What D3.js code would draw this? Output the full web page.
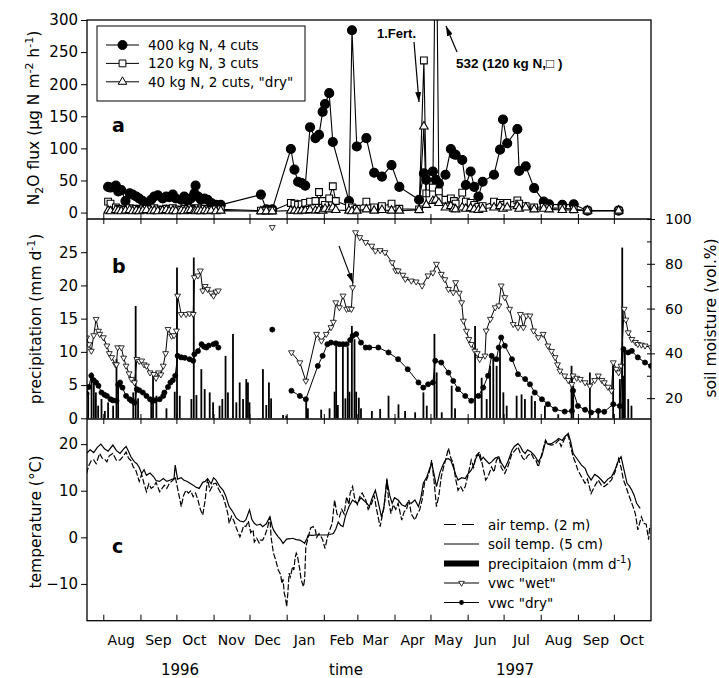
<!DOCTYPE html>
<html>
<head>
<meta charset="utf-8">
<script src="https://cdn.jsdelivr.net/npm/d3@7"></script>
<style>
  body { margin: 0; background: #fff; }
  svg text { font-family: "DejaVu Sans", sans-serif; fill: #000; }
</style>
</head>
<body>
<div class="canva"></div>
<script>
// all days are counted from 18 July 1996

// N2O flux sampling days and the three treatments
const fluxDays = [18, 20, 24.5, 26.5, 29, 32.5, 36, 38.5, 41.5, 44, 47, 50, 54, 56.5, 59.5, 63.5, 66.5, 69, 72, 74.5,
  79, 81.5, 84.5, 87, 90, 91, 93, 95.5, 98.5, 101, 104, 108, 112, 145.5, 150, 155, 170.5, 173.5, 176.5, 179.5,
  182.5, 186.5, 191, 194, 197, 199, 202.5, 205.5, 208, 219, 221.5, 225.5, 233.5, 240, 246.5, 254.5, 261, 277.5, 281.5, 283.5,
  289, 291.5, 294, 299.5, 304, 306.5, 308, 313.5, 316.5, 320.5, 323.5, 327, 330.5, 340, 345, 347.5, 351, 359.5, 361, 366.5,
  373.5, 381.5, 386, 397, 406.5, 418, 444];
const flux400 = [40, 39, 42, 33, 35, 18, 30, 28, 25, 22, 18, 15, 20, 25, 27, 22, 25, 24, 28, 22,
  20, 25, 18, 22, 30, 42, 25, 20, 22, 20, 15, 12, 12, 28, 5, 5, 99, 67, 48, 46,
  42, 133, 116, 121, 157, 169, 186, 110, null, 18, 284, 103, 116, 62, 56, 74, 40, 20, 61, 51,
  64, 51, 45, 59, 99, 91, 90, 82, 43, 64, 40, 25, 48, 59, 98, 145, 108, 130, 65, 72,
  38, 17, 13, 12, 13, 3, 3];
const flux120 = [17, 14, 8, 6, 5, 4, 7, 5, 6, 4, 5, 6, 5, 7, 5, 4, 6, 5, 7, 5,
  4, 6, 5, 7, 6, 5, 7, 5, 6, 5, 4, 5, 5, 3, 3, 3, 15, 14, 12, 13,
  15, 17, 18, 32, 18, 12, 22, 41, 18, 10, 8, 6, 17, 8, 10, 14, 6, 5, 237, 30,
  39, 532, 33, 20, 22, 18, 14, 31, 17, 15, 12, 9, 10, 17, 15, 12, 15, 19, 14, 10,
  8, 9, 7, 7, 5, 3, 3];
const flux40 = [3, 2, 4, 3, 2, 3, 4, 2, 3, 2, 3, 4, 2, 3, 2, 3, 4, 2, 3, 2,
  3, 2, 3, 4, 3, 2, 3, 2, 3, 2, 3, 2, 3, 2, 2, 2, 3, 3, 2, 3,
  3, 4, 3, 4, 3, 6, 5, 8, 4, 3, 2, 3, 5, 3, 4, 3, 3, 4, 134, 12,
  18, 20, 15, 8, 10, 6, 5, 8, 6, 7, 5, 4, 6, 8, 10, 6, 8, 10, 6, 8,
  5, 6, 5, 4, 4, 3, 3];

// daily precipitation [day, mm]
const precip = [[1.4, 3.9], [4.2, 6.9], [6.1, 6.1], [7.8, 3.9], [9.7, 1.9], [12.5, 2.9], [15.3, 1.1], [18, 2.4], [22.2, 1.9],
  [25, 8.9], [26.4, 4.9], [39, 3.9], [41, 16.9], [43, 3], [54, 2.4], [55.5, 6.4], [58.3, 3.4], [66.7, 1.5], [73.6, 4],
  [75.5, 22.7], [77.8, 3.4], [87.5, 2.9], [89.5, 24.2], [91.7, 3.5], [95.8, 7.4], [98.6, 4.4], [102.8, 3.9], [105.6, 2.4],
  [111, 1.9], [113.3, 2.9], [116, 9.4], [118, 3.9], [122.2, 12.7], [125, 2.4], [127.8, 5.4], [130.6, 2.9], [133.3, 5.9],
  [134.7, 5.4], [136, 2.4], [147.2, 7.4], [150, 2], [152.2, 5.4], [154, 3], [164, 0.5], [166.7, 0.4], [183.3, 2.6],
  [184.7, 1.5], [195.8, 1.3], [202.8, 1.5], [207, 4], [208.3, 10.9], [209.7, 2], [213.9, 10.9], [216, 3], [218, 10.7],
  [219.4, 4], [221.4, 13.9], [223.6, 11.9], [225, 4], [227.2, 3.1], [229, 1.5], [238.1, 1.1], [245, 1.4], [252, 3.4],
  [260.3, 2.1], [265.8, 1.1], [274.2, 0.9], [281.1, 3.9], [283.9, 1.9], [290.3, 12.7], [292.2, 6.9], [296.4, 0.9],
  [304.7, 4.9], [307.5, 1.5], [324.2, 13.9], [329.7, 6.1], [333.9, 2.9], [336.7, 7.9], [339.4, 9.4], [342.2, 7.9],
  [345, 10.4], [347.8, 3.9], [350.6, 1.9], [358.9, 3.4], [363, 3.6], [365.8, 2.9], [371.4, 3.4], [374.2, 2.6],
  [382.5, 1.9], [393.6, 0.6], [404.7, 7.9], [406.1, 4.9], [420, 6.9], [427, 1], [439.4, 7.9], [445, 5.9], [447, 25.7],
  [447.8, 6.4], [449.2, 10.4], [452, 2.9], [454.7, 1.9]];

// soil moisture (vol.%), null = gap
const vwcWet = [[0, 47], [2, 44], [4, 41.1], [6, 48], [8, 55.3], [10, 50], [11, 48.6], [14, 47.1], [17, 43.4], [19, 40],
  [21, 38.2], [24, 35.2], [25, 35], [26, 42.6], [29, 42.6], [31, 38], [33, 34.4], [35.5, 31], [37.5, 28.5], [40, 27],
  [42, 37.4], [44, 36.5], [46, 36.7], [48, 35], [50, 34.4], [53, 31.4], [56, 30.7], [58, 29], [60, 31.4], [62, 30.5],
  [64, 34.4], [66, 40], [68, 50.8], [71, 47.8], [73, 48], [75, 50.1], [76, 65.7], [79, 57.5], [83, 57.5], [86, 57.8],
  [89, 57.5], [90, 73.9], [93, 74.7], [95, 76.9], [97, 68], [99, 70], [101, 68.7], [104, 67], [106, 65.7], [108, 67.5],
  [110, 68], null, [155, 96.3], null, [171, 40.4], [178, 35.9], [183, 27.7], [192, 48.6], [196, 45.6], [200, 48.6],
  [204, 51.6], [206, 54], [208, 62.7], [211, 60.5], [214, 65.7], [217, 59.8], [219, 60], [221, 59.8], [222, 69.4],
  [224.5, 94], [228, 91.8], [233, 89.6], [238, 88], [241, 85.8], [245, 86], [249, 85.1], [255, 80.6], [258, 77],
  [260, 76.9], [264, 75], [266, 73.2], [271, 72.4], [275, 72], [280, 70.2], [285, 74.7], [289, 76], [292, 79.9],
  [296, 75.4], [299, 73], [302, 68.7], [306, 67.2], [308, 71.7], [311, 67], [313, 62.7], [314.5, 54.5], [317, 50],
  [319, 46.3], [321, 44.1], [324, 41.1], [326, 40], [328, 37.4], [332.5, 38.9], [333.5, 50.1], [337, 55.3], [341, 60.5],
  [344, 61.3], [346, 70.2], [349, 65], [353, 59.8], [356, 53], [360, 51.6], [362, 57.5], [364.5, 51.6], [367, 56.8],
  [370, 56.8], [373, 50.1], [377, 47.1], [381, 48.6], [385, 43.4], [388, 41], [391, 38.2], [393, 35], [395, 32.2],
  [399, 30], [402, 28], [405, 26.2], [406, 30], [409, 29], [412, 28.5], [416, 27], [420, 25.5], [424, 28], [427, 30],
  [430, 28], [432, 27], [435, 25], [438, 23.3], [439.5, 35.9], [442, 33], [444, 31.4], [446, 34.4], [448.6, 59.8],
  [450, 55], [452, 49.3], [455, 46.3], [458, 45], [460, 44.1], [463, 43.8], [466, 43.4], [471, 42.6]];
const vwcDry = [[0, 22], [2, 25], [4, 30], [6, 28], [8, 27], [10, 25.5], [12.5, 22.5], [15, 21.5], [17, 21], [20, 19.5],
  [22, 19], [25, 18.8], [26.5, 26], [28, 27], [30, 24.7], [33, 21], [36, 19.5], [37.5, 18.8], [40, 18], [42, 24],
  [44, 23.5], [47, 22.5], [50, 21], [53, 19.5], [55, 18.8], [57, 19], [61, 19.5], [64, 21], [65, 22.5], [68, 25],
  [70, 27], [72, 28], [74, 30], [76, 38.9], [79, 38.2], [82, 38], [86, 37.4], [89, 36.7], [90, 39.6], [93, 41],
  [96, 44.1], [98, 43], [100, 42.6], [102, 43.5], [106, 44.1], [108, 44.5], [110, 42.6], null, [155, 50.6], null,
  [171, 23.3], [178, 21], [183, 19.5], [193, 34.4], [197, 38.9], [201, 44.1], [204, 44.8], [208, 44.5], [211, 44.1],
  [214, 44.1], [217, 44.1], [220, 46], [222, 47.8], [225, 48.6], [229, 44.8], [233, 42.6], [236, 42.6], [243.5, 42.6],
  [252, 40.4], [260, 37.4], [268, 32.9], [277, 27], [281, 24.7], [285, 26.2], [289, 27], [291, 36.7], [296, 35.9],
  [302, 31.4], [306, 27.7], [310, 24], [316, 21], [321, 18.8], [327, 21], [331, 24.7], [335, 30], [338, 38.9],
  [342, 37.4], [344, 42.6], [346, 47.1], [349, 43.4], [355, 37.4], [360, 30.7], [366, 28.5], [370, 26.2], [374, 22.5],
  [380, 19.5], [385, 17.3], [391, 15], [399, 14], [405, 14.3], [406, 23.3], [410, 16.5], [416, 14.8], [421, 13.6],
  [427, 14.3], [432, 13.9], [439.5, 17.3], [445, 16.5], [448, 41.9], [452, 40.4], [455, 41.1], [460, 38.2], [466, 35.9],
  [471, 34.4]];

// temperatures (°C)
const soilTemp = [[0, 18], [3, 18.8], [6, 18.2], [9, 19.3], [12, 20], [15, 19], [18, 18.5], [22, 19.8], [25, 18.6], [28, 18],
  [31, 19], [33, 19.5], [35, 18.5], [37, 17.3], [40, 16.2], [42, 15.8], [44, 15], [46, 13.7], [48, 14.5], [50, 13.3],
  [53, 13.8], [56, 13], [58, 12.2], [61, 12], [64, 12.6], [67, 12], [70, 12.3], [73, 12.6], [74, 15.5], [76, 12.5],
  [79, 12.8], [81, 12.3], [84, 12], [87, 11.5], [89, 11.2], [91, 10.8], [94, 10.5], [97, 11.8], [99, 12], [101, 12.6],
  [104, 11.5], [106, 12.8], [108, 12.3], [111, 11], [114, 10.1], [116, 9], [119, 6.6], [122, 5.5], [125, 4.1], [128, 3.5],
  [131, 3.3], [133, 3.8], [136, 5.9], [138, 3.8], [140, 3], [142, 2.6], [145, 2.8], [147, 2.3], [150, 2.9], [153, 4.4],
  [155, 2.3], [156, 1.6], [158, 0.8], [160, 0.1], [162, -0.5], [164, -1.3], [167, -0.4], [170, -0.3], [172, -0.2],
  [175, -0.5], [178, -0.6], [180, -0.9], [182, -1.3], [184, -0.2], [185, 0.5], [188, 0.4], [192, 0.5], [196, 0.5],
  [200, 0.5], [203, 0.6], [206, 0.8], [208, 1.8], [210, 3.3], [212, 2.6], [214, 2.3], [216, 4.5], [219, 6.6], [222, 8],
  [224, 7.6], [226, 7.3], [229, 8.5], [231, 8], [234, 7.3], [236, 6.6], [238, 8.2], [241, 10.1], [243, 8], [246, 4.5],
  [248, 6], [250.6, 12.3], [253, 9], [255, 7.3], [257, 8.5], [260, 8], [263, 7], [266, 6.6], [268, 7.5], [271, 7.3],
  [274, 8], [277, 6.6], [279, 8.5], [281, 11.6], [284, 13], [286, 14.5], [288, 15.9], [290, 13.5], [292, 10.9], [295, 14],
  [298, 15.9], [300, 16.8], [302, 16.9], [304, 16.5], [306, 15.1], [308, 13.5], [310, 12.3], [313, 12.8], [316, 12.6],
  [318, 13.5], [321, 14.4], [323, 15.5], [325, 17], [327, 18], [329, 16.5], [331, 17.2], [333, 16.6], [336, 15.8],
  [338, 16.2], [341, 17], [344, 17.3], [346, 16], [349, 14.8], [352, 16.5], [355, 18.7], [357, 19.5], [360, 20.1],
  [362, 19.5], [364, 18.5], [366, 18], [368, 18.8], [371, 18.3], [374, 17.5], [377, 16.2], [380, 17.5], [383, 20.5],
  [385, 20], [388, 20.1], [391, 20.6], [394, 21.2], [397, 20.8], [399, 21.6], [402, 22.3], [404, 20.5], [406, 18],
  [408, 17.3], [410, 16.6], [413, 15.5], [416, 14.8], [418, 13.5], [421, 12.3], [424, 13.5], [427, 13], [430, 12.2],
  [432, 11.6], [435, 12.5], [438, 13], [441, 14.5], [444, 16.6], [446, 17.3], [448, 15], [451, 11.6], [453, 11],
  [455, 10.1], [457, 9], [459, 7.3], [462, 6.2]];
const airTemp = [[0, 13.7], [2, 15.5], [4, 16.5], [6, 16.6], [8, 15.8], [11, 18], [13, 17], [15, 16.8], [17, 16.2], [19, 17.5],
  [22, 18], [25, 16.5], [28, 16.6], [30, 17.2], [33, 18.3], [35, 17], [37, 16.5], [39, 15.1], [41, 14.5], [44, 12],
  [46, 13.5], [48, 11.5], [50, 9.8], [52, 11.5], [54, 10.5], [56, 10.9], [58, 11.8], [61, 9.8], [63, 10.5], [65, 11.2],
  [67, 10.5], [69, 11.5], [71, 12], [73, 12.5], [74, 13], [76, 10.5], [78, 8], [79, 6.6], [81, 9], [83, 10.1], [85, 9.5],
  [87, 10], [89, 8.7], [91, 9.5], [93, 8], [95, 6], [97, 4.8], [99, 8], [101, 12.6], [103, 10], [106, 11.5], [108, 11.6],
  [110, 10.5], [112, 9.5], [114, 8.7], [116, 7], [118, 5], [119, 3], [121, 4.5], [123, 3.5], [125, 2], [128, 0.1],
  [130, 1.5], [131, 2.5], [133, 2.3], [135, 3.5], [137, 1], [139, 1.6], [140, -1], [142, -0.2], [144, -1.2], [145, -0.6],
  [147, -0.6], [149, 0.5], [151, 2], [153, 4.4], [154, 0], [156, -3.4], [158, -5], [160, -7], [162, -8], [163, -9.9],
  [164, -9], [165, -12], [166, -13], [167, -14.9], [168, -12], [169, -7.7], [170, -8.5], [172, -6.3], [173, -7],
  [174, -4.5], [175, -3.4], [176, -4], [178, -7], [179, -9], [181, -10.6], [182, -9], [183, -2], [184, -1], [186, 1],
  [187, 2], [189, 2.3], [191, 1.5], [192, 0], [194, 0.8], [196, 0], [197, -0.5], [199, -2.4], [201, 0], [203, 1.6],
  [205, 3], [207, 8], [209, 5], [211, 4.4], [213, 6], [215, 5], [217, 8.7], [219, 7], [220, 9.5], [222, 10.9], [224, 8],
  [226, 7], [228, 8.7], [230, 9.5], [233, 8], [235, 6], [238, 7.3], [240, 9], [242, 6], [245, 2.3], [247, 5], [249, 8],
  [250.6, 12.6], [252, 8], [254, 5.1], [256, 7], [258, 6], [260, 7.3], [263, 3.7], [265, 5.5], [267, 6], [269, 8],
  [271, 5], [274, 3.7], [276, 5], [278, 5.9], [280, 8], [282, 11.6], [284, 12.5], [286, 14], [288, 16.6], [290, 12],
  [292, 6.6], [294, 9], [296, 13], [298, 15.1], [300, 17], [302, 19.1], [304, 17], [306, 15.9], [308, 12.5], [310, 10.1],
  [312, 11], [314, 10], [316, 10.9], [318, 13], [321, 16.6], [323, 15], [325, 17.5], [328, 18.3], [330, 16], [333, 12.3],
  [335, 13], [338, 15.1], [340, 14], [342, 16.5], [344, 17.3], [346, 15], [349, 13.7], [352, 15.5], [355, 18], [357, 18.5],
  [360, 19.4], [362, 18], [364, 17], [366, 16.6], [368, 17.5], [371, 18], [373, 17], [375, 16.5], [377, 15.1], [379, 17],
  [381, 19], [383, 20.9], [385, 20], [388, 19.8], [391, 20], [394, 20.9], [396, 19.5], [399, 21.2], [402, 21.9],
  [404, 19.5], [406, 17.3], [408, 16], [410, 14.4], [413, 13], [416, 11.6], [418, 12.5], [421, 9.4], [424, 11], [427, 12.3],
  [430, 11], [432, 10.9], [435, 11.5], [438, 12.3], [441, 14], [444, 16.9], [446, 15], [448, 12.3], [450, 11], [452, 9.4],
  [454, 8], [456, 6.6], [458, 5], [460, 1.6], [462, 3.5], [463, 4.4], [465, 3], [467, 2.8], [469, -0.5], [470, 2.5]];

// tick labels
const monthLabels = ["Aug", "Sep", "Oct", "Nov", "Dec", "Jan", "Feb", "Mar", "Apr", "May", "Jun", "Jul", "Aug", "Sep", "Oct"];
const fluxTicks = [0, 50, 100, 150, 200, 250, 300];
const precipTicks = [0, 5, 10, 15, 20, 25];
const soilTicks = [20, 40, 60, 80, 100];
const tempTicks = [-10, 0, 10, 20];
const fluxLegend = ["400 kg N, 4 cuts", "120 kg N, 3 cuts", "40 kg N, 2 cuts, \"dry\""];

// layout
const L = 87, R = 651;
const start = Date.UTC(1996, 6, 18);
const toDate = d => new Date(start + d * 864e5);

const svg = d3.select(".canva").append("svg")
  .attr("width", 719)
  .attr("height", 678);

//scales
const x = d3.scaleUtc().domain([toDate(0.4), toDate(471)]).range([L, R]);
const yFlux = d3.scaleLinear().domain([-10, 300]).range([219, 20]);
const yPrec = d3.scaleLinear().domain([0, 30]).range([418.3, 219]);
const ySoil = d3.scaleLinear().domain([11, 100]).range([418.3, 219]);
const yTemp = d3.scaleLinear().domain([-17.9, 25.4]).range([620.7, 419]);

//clip paths for the three panels
const defs = svg.append("defs");
[["clipA", 20, 219], ["clipB", 219, 419], ["clipC", 419, 620.7]].forEach(c => {
  defs.append("clipPath").attr("id", c[0])
    .append("rect").attr("x", L).attr("y", c[1]).attr("width", R - L).attr("height", c[2] - c[1]);
});
defs.append("marker").attr("id", "arrow")
  .attr("viewBox", "0 0 10 6").attr("refX", 10).attr("refY", 3)
  .attr("markerWidth", 10).attr("markerHeight", 6)
  .attr("markerUnits", "userSpaceOnUse").attr("orient", "auto")
  .append("path").attr("d", "M0,0 L10,3 L0,6 Z").attr("fill", "#000");

const sym = (type, size) => d3.symbol().type(type).size(size)();

// ---------- panel a: N2O flux ----------
const gA = svg.append("g").attr("clip-path", "url(#clipA)");
const fluxLine = d3.line().x(d => x(toDate(d[0]))).y(d => yFlux(d[1]));
const series = [
  {vals: flux400, shape: d3.symbolCircle, size: 64, fill: "#000"},
  {vals: flux120, shape: d3.symbolSquare, size: 46, fill: "#fff"},
  {vals: flux40, shape: d3.symbolTriangle, size: 32, fill: "#fff"}
];
series.forEach(s => {
  const pts = fluxDays.map((d, i) => [d, s.vals[i]]).filter(p => p[1] != null);
  gA.append("path").datum(pts)
    .attr("d", fluxLine).attr("fill", "none").attr("stroke", "#000").attr("stroke-width", 1.1);
  gA.selectAll(null).data(pts).enter().append("path")
    .attr("d", sym(s.shape, s.size))
    .attr("transform", d => `translate(${x(toDate(d[0]))},${yFlux(d[1])})`)
    .attr("fill", s.fill).attr("stroke", "#000").attr("stroke-width", 1.1);
});

// ---------- panel b: precipitation and soil moisture ----------
const gB = svg.append("g").attr("clip-path", "url(#clipB)");
gB.selectAll("rect.prec").data(precip).enter().append("rect")
  .attr("x", d => x(toDate(d[0])) - 0.9)
  .attr("y", d => yPrec(d[1]))
  .attr("width", 1.8)
  .attr("height", d => yPrec(0) - yPrec(d[1]))
  .attr("fill", "#000");

const soilLine = d3.line().defined(d => d != null)
  .x(d => x(toDate(d[0]))).y(d => ySoil(d[1]));
[[vwcWet, d3.symbolTriangle, 15, "#fff", 180], [vwcDry, d3.symbolCircle, 20, "#000", 0]].forEach(s => {
  gB.append("path").datum(s[0])
    .attr("d", soilLine).attr("fill", "none").attr("stroke", "#000").attr("stroke-width", 1);
  gB.selectAll(null).data(s[0].filter(d => d != null)).enter().append("path")
    .attr("d", sym(s[1], s[2]))
    .attr("transform", d => `translate(${x(toDate(d[0]))},${ySoil(d[1])}) rotate(${s[4]})`)
    .attr("fill", s[3]).attr("stroke", "#000").attr("stroke-width", 0.8);
});

// ---------- panel c: temperatures ----------
const gC = svg.append("g").attr("clip-path", "url(#clipC)");
const tempLine = d3.line().x(d => x(toDate(d[0]))).y(d => yTemp(d[1]));
gC.append("path").datum(airTemp)
  .attr("d", tempLine).attr("fill", "none").attr("stroke", "#000")
  .attr("stroke-width", 1.2).attr("stroke-dasharray", "6,2");
gC.append("path").datum(soilTemp)
  .attr("d", tempLine).attr("fill", "none").attr("stroke", "#000").attr("stroke-width", 1.2);

// ---------- frames and axes ----------
svg.append("rect").attr("x", L).attr("y", 20).attr("width", R - L).attr("height", 620.7 - 20)
  .attr("fill", "none").attr("stroke", "#000").attr("stroke-width", 1.3);
[219, 419].forEach(yy => svg.append("line").attr("x1", L).attr("x2", R).attr("y1", yy).attr("y2", yy)
  .attr("stroke", "#000").attr("stroke-width", 1.3));

const tidy = (g, size) => {
  g.attr("font-family", null).attr("font-size", size);
  g.select(".domain").remove();
};

const monthTicks = d3.utcMonth.range(new Date(Date.UTC(1996, 7, 1)), new Date(Date.UTC(1997, 9, 2)));
[219, 419].forEach(yy => {
  svg.append("g").attr("transform", `translate(0,${yy})`)
    .call(d3.axisTop(x).tickValues(monthTicks).tickSize(5).tickFormat("")).call(g => tidy(g, 10));
  svg.append("g").attr("transform", `translate(0,${yy})`)
    .call(d3.axisBottom(x).tickValues(monthTicks).tickSize(5).tickFormat("")).call(g => tidy(g, 10));
});
svg.append("g").attr("transform", "translate(0,620.7)")
  .call(d3.axisTop(x).tickValues(monthTicks).tickSize(6).tickFormat("")).call(g => tidy(g, 10));

//month labels at mid month
svg.selectAll("text.month").data(monthTicks).enter().append("text")
  .attr("x", d => x(d3.utcDay.offset(d, 15)))
  .attr("y", 645)
  .attr("text-anchor", "middle")
  .attr("font-size", 14)
  .text((d, i) => monthLabels[i]);

svg.append("g").attr("transform", `translate(${L},0)`)
  .call(d3.axisLeft(yFlux).tickValues(fluxTicks).tickSize(6).tickPadding(3)).call(g => tidy(g, 15));
svg.append("g").attr("transform", `translate(${L},0)`)
  .call(d3.axisLeft(yPrec).tickValues(precipTicks).tickSize(6).tickPadding(3)).call(g => tidy(g, 15));
svg.append("g").attr("transform", `translate(${L},0)`)
  .call(d3.axisLeft(yTemp).tickValues(tempTicks).tickSize(6).tickPadding(3)).call(g => tidy(g, 15));

//soil moisture axis on the right
svg.append("g").attr("transform", `translate(${R},0)`)
  .call(d3.axisLeft(ySoil).tickValues(d3.range(20, 101, 10)).tickSize(4).tickFormat("")).call(g => tidy(g, 10));
svg.append("g").attr("transform", `translate(${R},0)`)
  .call(d3.axisRight(ySoil).tickValues(soilTicks).tickSize(4).tickPadding(10)).call(g => tidy(g, 14));

// ---------- axis titles ----------
const t1 = svg.append("text").attr("transform", "translate(39,118) rotate(-90)")
  .attr("text-anchor", "middle").attr("font-size", 15.5);
t1.append("tspan").text("N");
t1.append("tspan").attr("dy", 4).attr("font-size", 11).text("2");
t1.append("tspan").attr("dy", -4).text("O flux (\u03bcg N m");
t1.append("tspan").attr("dy", -6).attr("font-size", 11).text("-2");
t1.append("tspan").attr("dy", 6).text(" h");
t1.append("tspan").attr("dy", -6).attr("font-size", 11).text("-1");
t1.append("tspan").attr("dy", 6).text(")");

const t2 = svg.append("text").attr("transform", "translate(41,319) rotate(-90)")
  .attr("text-anchor", "middle").attr("font-size", 15.5);
t2.append("tspan").text("precipitation (mm d");
t2.append("tspan").attr("dy", -6).attr("font-size", 11).text("-1");
t2.append("tspan").attr("dy", 6).text(")");

svg.append("text").attr("transform", "translate(41,522) rotate(-90)")
  .attr("text-anchor", "middle").attr("font-size", 15.5).text("temperature (\u00b0C)");
svg.append("text").attr("transform", "translate(716,318) rotate(-90)")
  .attr("text-anchor", "middle").attr("font-size", 15.5).text("soil moisture (vol.%)");

svg.append("text").attr("x", 180).attr("y", 675).attr("text-anchor", "middle").attr("font-size", 15).text("1996");
svg.append("text").attr("x", 346).attr("y", 675).attr("text-anchor", "middle").attr("font-size", 15).text("time");
svg.append("text").attr("x", 515).attr("y", 675).attr("text-anchor", "middle").attr("font-size", 15).text("1997");

//panel letters
[["a", 132], ["b", 273], ["c", 553]].forEach(p => svg.append("text")
  .attr("x", 112).attr("y", p[1]).attr("font-size", 19).attr("font-weight", "bold").text(p[0]));

// ---------- legend panel a ----------
svg.append("rect").attr("x", 97).attr("y", 26).attr("width", 208).attr("height", 75)
  .attr("fill", "#fff").attr("stroke", "#000").attr("stroke-width", 1);
series.forEach((s, i) => {
  const yy = 45 + i * 18.4;
  svg.append("line").attr("x1", 106).attr("x2", 139).attr("y1", yy).attr("y2", yy)
    .attr("stroke", "#000").attr("stroke-width", 1);
  svg.append("path").attr("d", sym(s.shape, s.size)).attr("transform", `translate(122.5,${yy})`)
    .attr("fill", s.fill).attr("stroke", "#000");
  svg.append("text").attr("x", 148).attr("y", yy + 5).attr("font-size", 13.5).text(fluxLegend[i]);
});

//annotations in panel a
svg.append("text").attr("x", 377).attr("y", 38).attr("font-size", 13).attr("font-weight", "bold")
  .style("font-family", "'Liberation Sans', Arial, sans-serif").text("1.Fert.");
svg.append("line").attr("x1", 414).attr("y1", 42).attr("x2", 419).attr("y2", 102)
  .attr("stroke", "#000").attr("stroke-width", 1.2).attr("marker-end", "url(#arrow)");
svg.append("text").attr("x", 456).attr("y", 68).attr("font-size", 13.5).attr("font-weight", "bold")
  .style("font-family", "'Liberation Sans', Arial, sans-serif").text("532 (120 kg N,\u25a1 )");
svg.append("line").attr("x1", 457).attr("y1", 52).attr("x2", 446).attr("y2", 26)
  .attr("stroke", "#000").attr("stroke-width", 1.2).attr("marker-end", "url(#arrow)");

//arrow in panel b
svg.append("line").attr("x1", 339).attr("y1", 246).attr("x2", 353).attr("y2", 283)
  .attr("stroke", "#000").attr("stroke-width", 1.1).attr("marker-end", "url(#arrow)");

// ---------- legend panel c ----------
const legC = [
  {label: "air temp. (2 m)", kind: "dash"},
  {label: "soil temp. (5 cm)", kind: "solid"},
  {label: "precipitaion (mm d", sup: "-1", kind: "bar"},
  {label: "vwc \"wet\"", kind: "wet"},
  {label: "vwc \"dry\"", kind: "dry"}
];
legC.forEach((e, i) => {
  const yy = 524.5 + i * 19.5;
  if (e.kind === "bar") {
    svg.append("rect").attr("x", 444).attr("y", yy - 3).attr("width", 35).attr("height", 6).attr("fill", "#000");
  } else {
    svg.append("line").attr("x1", 444).attr("x2", 479).attr("y1", yy).attr("y2", yy)
      .attr("stroke", "#000").attr("stroke-width", 1)
      .attr("stroke-dasharray", e.kind === "dash" ? "12,6" : null);
  }
  if (e.kind === "wet") svg.append("path").attr("d", sym(d3.symbolTriangle, 14))
    .attr("transform", `translate(461.5,${yy}) rotate(180)`).attr("fill", "#fff").attr("stroke", "#000").attr("stroke-width", 0.8);
  if (e.kind === "dry") svg.append("path").attr("d", sym(d3.symbolCircle, 18))
    .attr("transform", `translate(461.5,${yy})`).attr("fill", "#000");
  const t = svg.append("text").attr("x", 488).attr("y", yy + 5).attr("font-size", 13.5);
  t.append("tspan").text(e.label);
  if (e.sup) {
    t.append("tspan").attr("dy", -6).attr("font-size", 10).text(e.sup);
    t.append("tspan").attr("dy", 6).text(")");
  }
});
</script>
</body>
</html>
